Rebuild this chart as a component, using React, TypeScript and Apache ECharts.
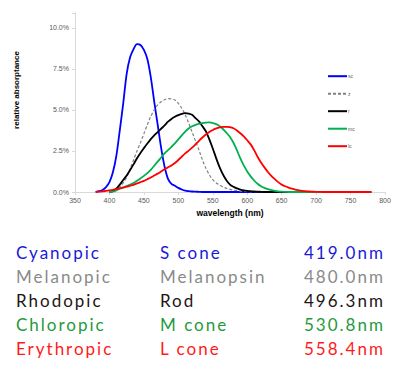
import React, { useEffect, useRef } from "react";
import * as echarts from "echarts";

const WAVELENGTHS = [
  380, 385, 390, 395, 400, 405, 410, 415, 420, 425, 430, 435, 440, 445, 450, 455,
  460, 465, 470, 475, 480, 485, 490, 495, 500, 505, 510, 515, 520, 525, 530, 535,
  540, 545, 550, 555, 560, 565, 570, 575, 580, 585, 590, 595, 600, 605, 610, 615,
  620, 625, 630, 635, 640, 645, 650, 655, 660, 665, 670, 675, 680, 685, 690, 695,
  700, 705, 710, 715, 720, 725, 730, 735, 740, 745, 750, 755, 760, 765, 770, 775, 780,
];

// values in % (relative absorptance), one per wavelength above
const SC = [
  0.01, 0.05, 0.12, 0.3, 0.6, 1.2, 2.2, 3.75, 5.4, 7.2, 8.2, 8.7, 9.0, 8.95, 8.65, 8.1,
  7.0, 5.5, 4.1, 2.7, 1.55, 0.8, 0.5, 0.38, 0.25, 0.15, 0.08, 0.05, 0.03, 0.02, 0.01, 0,
  0, 0, 0, 0, 0, 0, 0, 0, 0, 0, 0, 0, 0, 0, 0, 0,
  0, 0, 0, 0, 0, 0, 0, 0, 0, 0, 0, 0, 0, 0, 0, 0,
  0, 0, 0, 0, 0, 0, 0, 0, 0, 0, 0, 0, 0, 0, 0, 0, 0,
];
const Z = [
  null, null, null, null, 0, 0.05, 0.15, 0.3, 0.55, 0.9, 1.4, 1.95, 2.5, 3.0, 3.55, 4.1,
  4.6, 5.0, 5.3, 5.5, 5.62, 5.68, 5.67, 5.6, 5.4, 5.1, 4.7, 4.2, 3.65, 3.1, 2.55, 1.95,
  1.45, 1.05, 0.75, 0.55, 0.42, 0.3, 0.22, 0.16, 0.12, 0.08, 0.05, 0.03, 0.02, 0.01, 0, 0,
  0, 0, 0, 0, 0, 0, 0, 0, 0, 0, 0, 0, 0, 0, 0, 0,
  0, 0, 0, 0, 0, 0, 0, 0, 0, 0, 0, 0, 0, 0, 0, 0, 0,
];
const R = [
  null, null, null, null, 0, 0.05, 0.2, 0.45, 0.73, 1.0, 1.34, 1.68, 2.05, 2.38, 2.67, 2.95,
  3.22, 3.45, 3.65, 3.85, 4.05, 4.28, 4.45, 4.58, 4.68, 4.76, 4.8, 4.78, 4.7, 4.5, 4.3, 4.0,
  3.7, 3.2, 2.65, 2.05, 1.5, 1.05, 0.7, 0.45, 0.32, 0.22, 0.15, 0.1, 0.07, 0.05, 0.03, 0.02,
  0.01, 0, 0, 0, 0, 0, 0, 0, 0, 0, 0, 0, 0, 0, 0, 0,
  0, 0, 0, 0, 0, 0, 0, 0, 0, 0, 0, 0, 0, 0, 0, 0, 0,
];
const MC = [
  null, null, null, null, 0, 0.03, 0.1, 0.2, 0.28, 0.36, 0.45, 0.55, 0.68, 0.82, 0.98, 1.15,
  1.35, 1.6, 1.85, 2.1, 2.35, 2.55, 2.75, 2.96, 3.2, 3.45, 3.68, 3.87, 4.0, 4.09, 4.15, 4.2,
  4.23, 4.24, 4.2, 4.13, 4.0, 3.82, 3.6, 3.35, 3.0, 2.55, 2.05, 1.62, 1.25, 0.95, 0.7, 0.5,
  0.35, 0.25, 0.17, 0.11, 0.07, 0.04, 0.02, 0.01, 0, 0, 0, 0, 0, 0, 0, 0,
  0, 0, 0, 0, 0, 0, 0, 0, 0, 0, 0, 0, 0, 0, 0, 0, 0,
];
const LC = [
  0, 0.02, 0.04, 0.07, 0.1, 0.13, 0.17, 0.22, 0.27, 0.32, 0.38, 0.44, 0.52, 0.6, 0.68, 0.78,
  0.88, 1.0, 1.12, 1.25, 1.38, 1.5, 1.62, 1.77, 1.95, 2.15, 2.35, 2.52, 2.7, 2.9, 3.12, 3.32,
  3.5, 3.65, 3.78, 3.87, 3.93, 3.96, 3.97, 3.95, 3.88, 3.75, 3.58, 3.38, 3.15, 2.9, 2.55, 2.15,
  1.8, 1.5, 1.22, 0.98, 0.78, 0.6, 0.45, 0.35, 0.27, 0.2, 0.15, 0.1, 0.07, 0.05, 0.03, 0.02,
  0.01, 0.01, 0, 0, 0, 0, 0, 0, 0, 0, 0, 0, 0, 0, 0, 0, 0,
];

const SERIES_NAMES = ["sc", "z", "r", "mc", "lc"];
const SERIES_COLORS = ["#0000ff", "#808080", "#000000", "#00b050", "#ff0000"];
const SERIES_DATA = [SC, Z, R, MC, LC];

const Y_TICKS = [0, 2.5, 5, 7.5, 10];

const OPIC_NAMES = ["Cyanopic", "Melanopic", "Rhodopic", "Chloropic", "Erythropic"];
const RECEPTORS = ["S cone", "Melanopsin", "Rod", "M cone", "L cone"];
const PEAKS = ["419.0nm", "480.0nm", "496.3nm", "530.8nm", "558.4nm"];
const TABLE_COLORS = ["#1a1ad6", "#8a8a8a", "#231414", "#1f9a3c", "#ff1a1a"];

export default function App() {
  const ref = useRef<HTMLDivElement>(null);
  useEffect(() => {
    document.body.style.margin = "0";
    const chart = echarts.init(ref.current!, undefined, { renderer: "svg" });
    const series = SERIES_NAMES.map((name, i) => ({
      name,
      type: "line",
      data: WAVELENGTHS.map((w, k) => [w, SERIES_DATA[i][k]]),
      symbol: "none",
      smooth: 0.3,
      connectNulls: false,
      lineStyle: {
        color: SERIES_COLORS[i],
        width: i === 1 ? 1.2 : 1.8,
        type: i === 1 ? [3, 2] : "solid",
      },
      itemStyle: { color: SERIES_COLORS[i] },
    }));
    const graphics: any[] = [
      {
        type: "text",
        x: 16,
        y: 90,
        rotation: Math.PI / 2,
        style: {
          text: "relative absorptance",
          font: "bold 8px 'Liberation Sans', Arial, sans-serif",
          fill: "#000",
          align: "center",
          verticalAlign: "middle",
        },
      },
      {
        type: "text",
        x: 230,
        y: 213,
        style: {
          text: "wavelength (nm)",
          font: "bold 8.5px 'Liberation Sans', Arial, sans-serif",
          fill: "#000",
          align: "center",
          verticalAlign: "middle",
        },
      },
    ];
    chart.setOption({
      animation: false,
      grid: { left: 75, right: 21, top: 13, bottom: 185, containLabel: false },
      legend: {
        orient: "vertical",
        left: 322,
        top: 68.7,
        itemWidth: 19,
        itemHeight: 6,
        itemGap: 12.5,
        data: SERIES_NAMES,
        itemStyle: { opacity: 0 },
        textStyle: { fontSize: 5, color: "#595959", padding: [0, 0, 0, -4] },
      },
      xAxis: {
        type: "value",
        min: 350,
        max: 800,
        interval: 50,
        axisLine: { show: true, lineStyle: { color: "#d9d9d9", width: 1 } },
        axisTick: { show: true, length: 3, lineStyle: { color: "#d9d9d9" } },
        splitLine: { show: false },
        axisLabel: { fontSize: 7, color: "#595959", margin: 5, fontFamily: "'Liberation Sans', Arial, sans-serif" },
      },
      yAxis: {
        type: "value",
        min: 0,
        max: 10.9,
        interval: 2.5,
        axisLine: { show: true, lineStyle: { color: "#d9d9d9", width: 1 } },
        axisTick: { show: true, length: 3, lineStyle: { color: "#d9d9d9" } },
        splitLine: { show: false },
        axisLabel: {
          fontSize: 7,
          color: "#595959",
          margin: 6,
          fontFamily: "'Liberation Sans', Arial, sans-serif",
          formatter: (v: number) => (Y_TICKS.includes(v) ? `${v.toFixed(1)}%` : ""),
        },
      },
      graphic: graphics,
      series,
    });
    return () => chart.dispose();
  }, []);

  const cell = (left: number, top: number, color: string, text: string, key: string) => (
    <div
      key={key}
      style={{
        position: "absolute",
        left,
        top,
        height: 24,
        lineHeight: "24px",
        fontFamily: "Lato, sans-serif",
        fontSize: 17,
        letterSpacing: "2px",
        color,
        whiteSpace: "nowrap",
      }}
    >
      {text}
    </div>
  );

  return (
    <div style={{ position: "relative", width: 406, height: 377 }}>
      <div ref={ref} style={{ position: "absolute", left: 0, top: 0, width: 406, height: 377 }} />
      {OPIC_NAMES.map((n, i) => {
        const top = 253 + i * 24 - 12;
        return (
          <React.Fragment key={n}>
            {cell(16, top, TABLE_COLORS[i], n, n + "a")}
            {cell(160, top, TABLE_COLORS[i], RECEPTORS[i], n + "b")}
            {cell(304, top, TABLE_COLORS[i], PEAKS[i], n + "c")}
          </React.Fragment>
        );
      })}
    </div>
  );
}
